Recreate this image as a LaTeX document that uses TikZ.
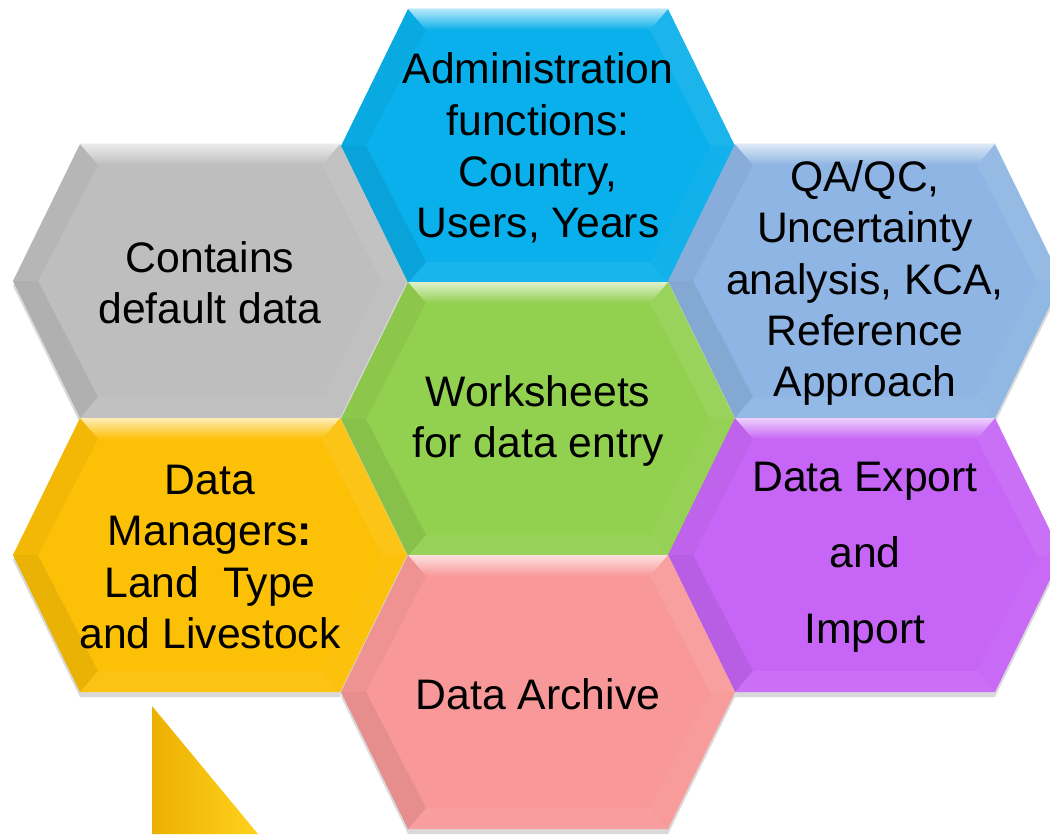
\documentclass[tikz,border=0pt]{standalone}
\usepackage{fontspec}
\setmainfont{Liberation Sans}

\definecolor{admblue}{RGB}{10,176,235}
\definecolor{defgray}{RGB}{190,190,190}
\definecolor{qablue}{RGB}{142,181,227}
\definecolor{wsgreen}{RGB}{146,208,80}
\definecolor{mgryellow}{RGB}{252,192,6}
\definecolor{expurple}{RGB}{199,102,246}
\definecolor{arcpink}{RGB}{248,152,152}

% one bevelled hexagon: name, centre, colour, text
\newcommand{\hexcell}[4]{%
	\begin{scope}[shift={#2}]
	\fill [black, opacity=.15] (-197,5)--(-130,-132)--(130,-132)--(197,5)--(130,142)--(-130,142)--cycle;
	\fill [#3] (-197,0)--(-130,-137)--(130,-137)--(197,0)--(130,137)--(-130,137)--cycle;
	\shade [top color=#3!30!white, bottom color=#3] (-130,-137)--(130,-137)--(112,-116)--(-112,-116)--cycle;
	\fill [black, opacity=.04] (-197,0)--(-130,-137)--(-112,-116)--(-172,0)--cycle;
	\fill [black, opacity=.07] (-197,0)--(-172,0)--(-112,116)--(-130,137)--cycle;
	\fill [white, opacity=.07] (197,0)--(130,-137)--(112,-116)--(172,0)--cycle;
	\fill [white, opacity=.03] (197,0)--(172,0)--(112,116)--(130,137)--cycle;
	\fill [white, opacity=.06] (-130,137)--(130,137)--(112,116)--(-112,116)--cycle;
	\node [hextext] (#1) at (0,2) {#4};
	\end{scope}}

\begin{document}
\begin{tikzpicture}[x=0.02cm, y=-0.02cm,
	hextext/.style={align=center, inner sep=0pt, font=\fontsize{24.3}{29.2}\selectfont}]
	\useasboundingbox (0,0) rectangle (1050,834);
	\hexcell{admin}{(538,146)}{admblue}{Administration\\functions:\\Country,\\Users, Years}
	\hexcell{defaults}{(210,281)}{defgray}{Contains\\default data}
	\hexcell{qaqc}{(865,281)}{qablue}{QA/QC,\\Uncertainty\\analysis, KCA,\\Reference\\Approach}
	\hexcell{worksheets}{(538,419)}{wsgreen}{Worksheets\\for data entry}
	\hexcell{managers}{(210,555)}{mgryellow}{Data\\Managers\textbf{:}\\Land\ \ Type\\and Livestock}
	\hexcell{export}{(865,555)}{expurple}{Data Export\\[14pt]and\\[14pt]Import}
	\hexcell{archive}{(538,692)}{arcpink}{Data Archive}
	% pointer below the managers cell
	\shade [left color={rgb,255:red,236;green,176;blue,0}, right color={rgb,255:red,255;green,210;blue,30}]
		(152,706) -- (258,834) -- (152,834) -- cycle;
\end{tikzpicture}
\end{document}
